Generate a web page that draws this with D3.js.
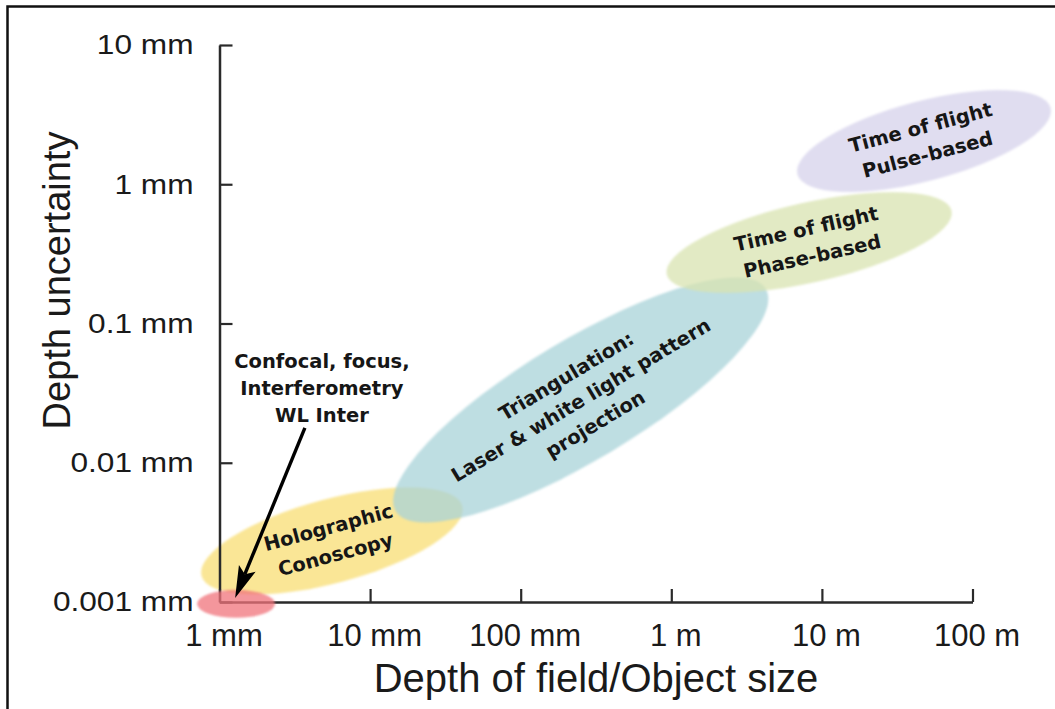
<!DOCTYPE html>
<html>
<head>
<meta charset="utf-8">
<script src="https://cdn.jsdelivr.net/npm/d3@7"></script>
<style>
  body { margin: 0; background: #fff; }
  svg { display: block; }
</style>
</head>
<body>
<div id="chart"></div>
<script>
const width = 1055;
const height = 709;

// axis ticks (object size in mm, depth uncertainty in mm)
const sizeTicks = [1, 10, 100, 1000, 10000, 100000];
const sizeLabels = ['1 mm', '10 mm', '100 mm', '1 m', '10 m', '100 m'];
const uncTicks = [0.001, 0.01, 0.1, 1, 10];
const uncLabels = ['0.001 mm', '0.01 mm', '0.1 mm', '1 mm', '10 mm'];

// each technique is drawn between two ends of its working range
const techniques = ['holo', 'tri', 'tofPhase', 'tofPulse', 'confocal'];
const sizeFrom = [0.76, 14.8, 932, 6876, 0.71];
const sizeTo = [40.9, 4236, 72600, 330000, 2.34];
const uncFrom = [0.00154, 0.00449, 0.2254, 1.18, 0.00097];
const uncTo = [0.00489, 0.1775, 0.6457, 3.54, 0.00097];
const techLines = [
  ['Holographic', 'Conoscopy'],
  ['Triangulation:', 'Laser & white light pattern', 'projection'],
  ['Time of flight', 'Phase-based'],
  ['Time of flight', 'Pulse-based'],
  []
];

// arrow pointing at the confocal / interferometry corner
const arrowFrom = [3.69, 0.0178];
const arrowTo = [1.27, 0.00107];
const arrowText = ['Confocal, focus,', 'Interferometry', 'WL Inter'];

// styles
const fills = {
  holo: '#f8dd73', tri: '#a8d3d8', tofPhase: '#d8e3b0',
  tofPulse: '#d6d2eb', confocal: '#f0737b'
};
const thickness = { holo: 42, tri: 60, tofPhase: 40, tofPulse: 40, confocal: 14 };

const svg = d3.select('#chart')
  .append('svg')
  .attr('width', width)
  .attr('height', height);

const x = d3.scaleLog().domain([1, 100000]).range([219.5, 972.5]);
const y = d3.scaleLog().domain([0.001, 10]).range([602, 45]);

const defs = svg.append('defs');
defs.append('filter').attr('id', 'soft')
  .append('feGaussianBlur').attr('stdDeviation', 0.9);

// frame (left and top only, the rest is cropped)
svg.append('path')
  .attr('d', 'M7.5,' + height + 'V6.5H' + width)
  .attr('fill', 'none')
  .attr('stroke', '#111')
  .attr('stroke-width', 2.5);

function ellipseOf(i) {
  const x1 = x(sizeFrom[i]), y1 = y(uncFrom[i]);
  const x2 = x(sizeTo[i]), y2 = y(uncTo[i]);
  return {
    key: techniques[i],
    cx: (x1 + x2) / 2,
    cy: (y1 + y2) / 2,
    a: Math.hypot(x2 - x1, y2 - y1) / 2,
    ang: Math.atan2(y2 - y1, x2 - x1) * 180 / Math.PI,
    lines: techLines[i]
  };
}

const ells = techniques.map((t, i) => ellipseOf(i));
const back = ells.filter(d => d.key !== 'confocal');
const front = ells.filter(d => d.key === 'confocal');

const gEll = svg.append('g');
gEll.selectAll('ellipse')
  .data(back)
  .enter().append('ellipse')
  .attr('transform', d => 'translate(' + d.cx + ',' + d.cy + ') rotate(' + d.ang + ')')
  .attr('rx', d => d.a)
  .attr('ry', d => thickness[d.key])
  .attr('fill', d => fills[d.key])
  .attr('fill-opacity', 0.75)
  .attr('filter', 'url(#soft)');

// axes
const axisColor = '#2a2a2a';

const gx = svg.append('g')
  .attr('transform', 'translate(0,' + y.range()[0] + ')')
  .call(d3.axisBottom(x)
    .tickValues(sizeTicks)
    .tickFormat((d, i) => sizeLabels[i])
    .tickSize(-13)
    .tickSizeOuter(0)
    .tickPadding(22));

const gy = svg.append('g')
  .attr('transform', 'translate(' + x.range()[0] + ',0)')
  .call(d3.axisLeft(y)
    .tickValues(uncTicks)
    .tickFormat((d, i) => uncLabels[i])
    .tickSize(-13)
    .tickSizeOuter(0)
    .tickPadding(26));

[gx, gy].forEach(g => {
  g.select('.domain').attr('stroke', axisColor).attr('stroke-width', 2.5);
  g.selectAll('.tick line').attr('stroke', axisColor).attr('stroke-width', 2.2);
  g.selectAll('.tick text')
    .attr('fill', '#1a1a1a')
    .style('font-family', '"Liberation Sans", Arial, sans-serif');
});
gx.selectAll('.tick text').style('font-size', '31px').attr('dx', 4);
gy.selectAll('.tick text')
  .style('font-size', '28px')
  .attr('x', -26 / 1.13)
  .attr('transform', 'scale(1.13,1)');

// axis titles
svg.append('text')
  .attr('x', (x.range()[0] + x.range()[1]) / 2)
  .attr('y', 692)
  .attr('text-anchor', 'middle')
  .style('font-family', '"Liberation Sans", Arial, sans-serif')
  .style('font-size', '40px')
  .attr('fill', '#1a1a1a')
  .text('Depth of field/Object size');

svg.append('text')
  .attr('transform', 'translate(70,' + ((y.range()[0] + y.range()[1]) / 2 - 43) + ') rotate(-90)')
  .attr('text-anchor', 'middle')
  .style('font-family', '"Liberation Sans", Arial, sans-serif')
  .style('font-size', '38px')
  .attr('fill', '#1a1a1a')
  .text('Depth uncertainty');

// the small red spot sits above the axes
svg.append('g').selectAll('ellipse')
  .data(front)
  .enter().append('ellipse')
  .attr('transform', d => 'translate(' + d.cx + ',' + d.cy + ') rotate(' + d.ang + ')')
  .attr('rx', d => d.a)
  .attr('ry', d => thickness[d.key])
  .attr('fill', d => fills[d.key])
  .attr('fill-opacity', 0.75)
  .attr('filter', 'url(#soft)');

// technique labels
const lineH = 28;
const gLab = svg.append('g')
  .style('font-family', '"DejaVu Sans", Verdana, sans-serif')
  .style('font-weight', 'bold')
  .style('font-size', '19.5px')
  .attr('fill', '#161616');

back.forEach(d => {
  const t = gLab.append('text')
    .attr('transform', 'translate(' + d.cx + ',' + d.cy + ') rotate(' + d.ang + ')')
    .attr('text-anchor', 'middle');
  d.lines.forEach((s, i) => {
    t.append('tspan')
      .attr('x', 0)
      .attr('y', (i - (d.lines.length - 1) / 2) * lineH)
      .attr('dy', '0.35em')
      .text(s);
  });
});

// arrow
const ax0 = x(arrowFrom[0]), ay0 = y(arrowFrom[1]);
const ax1 = x(arrowTo[0]), ay1 = y(arrowTo[1]);
const len = Math.hypot(ax1 - ax0, ay1 - ay0);
const ux = (ax1 - ax0) / len, uy = (ay1 - ay0) / len;
const nx = -uy, ny = ux;
const headL = 32, headW = 9;

svg.append('line')
  .attr('x1', ax0).attr('y1', ay0)
  .attr('x2', ax1 - ux * headL * 0.8).attr('y2', ay1 - uy * headL * 0.8)
  .attr('stroke', '#000')
  .attr('stroke-width', 3.4);

svg.append('path')
  .attr('d', 'M' + ax1 + ',' + ay1 +
    'L' + (ax1 - ux * headL + nx * headW) + ',' + (ay1 - uy * headL + ny * headW) +
    'L' + (ax1 - ux * headL * 0.8) + ',' + (ay1 - uy * headL * 0.8) +
    'L' + (ax1 - ux * headL - nx * headW) + ',' + (ay1 - uy * headL - ny * headW) + 'Z')
  .attr('fill', '#000');

const conf = svg.append('text')
  .attr('text-anchor', 'middle')
  .style('font-family', '"DejaVu Sans", Verdana, sans-serif')
  .style('font-weight', 'bold')
  .style('font-size', '19.5px')
  .attr('fill', '#161616');
arrowText.forEach((s, i) => {
  conf.append('tspan')
    .attr('x', ax0 + 17)
    .attr('y', ay0 - 6 - (arrowText.length - 1 - i) * 27)
    .text(s);
});
</script>
</body>
</html>
